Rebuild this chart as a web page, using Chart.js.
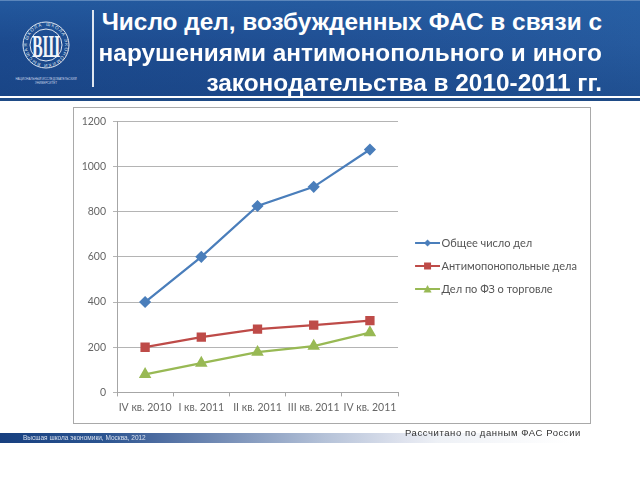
<!DOCTYPE html>
<html><head><meta charset="utf-8">
<style>
html,body{margin:0;padding:0;background:#fff;width:640px;height:480px;overflow:hidden;font-family:"Liberation Sans",sans-serif}
#all{position:absolute;left:0;top:0;width:640px;height:480px;filter:blur(.35px)}
#banner{position:absolute;left:0;top:0;width:640px;height:96px;background:linear-gradient(to bottom,rgba(40,100,170,.55) 0%,rgba(28,70,130,0) 45%,rgba(20,60,120,.35) 100%),linear-gradient(90deg,#1c4a8e 0%,#204f93 50%,#265a9e 100%);border-top:1px solid #5b86bb;box-sizing:border-box}
#rule1{position:absolute;left:0;top:96px;width:640px;height:2px;background:#fff}
#rule2{position:absolute;left:0;top:98px;width:640px;height:3px;background:#1f4b86}
#sep{position:absolute;left:92px;top:10px;width:2px;height:77px;background:#dfe6f0}
.t{position:absolute;right:38px;color:#fff;font-weight:bold;font-size:24.4px;white-space:nowrap;line-height:30px}
#frame{position:absolute;left:73px;top:107px;width:516px;height:315px;border:1px solid #a9a9a9;background:#fff}
#wrap{position:absolute;left:74px;top:108px;width:516px;height:315px}
#foot{position:absolute;left:0;top:433px;width:570px;height:10px;background:linear-gradient(90deg,#173f7f 0%,#2b5490 18%,#4a6a9f 27%,#b5c2d8 57%,#dfe3ee 71%,#eef1f6 77%,#ffffff 100%)}
#foottext{position:absolute;left:23px;top:434px;font-size:6.5px;color:#d8e0ee;line-height:8px;white-space:nowrap}
#src{position:absolute;left:405px;top:427px;font-size:9.5px;color:#333;letter-spacing:.58px;white-space:nowrap}
</style></head><body><div id="all">
<div id="banner"></div><div id="rule1"></div><div id="rule2"></div><div id="sep"></div>
<svg style="position:absolute;left:0;top:0" width="92" height="96" viewBox="0 0 92 96">
<circle cx="46" cy="45" r="23" fill="none" stroke="#dfe6f0" stroke-width="1"/>
<circle cx="46" cy="45" r="16" fill="none" stroke="#dfe6f0" stroke-width="1"/>
<path id="ring" d="M46 26a19 19 0 1 1-.01 0" fill="none"/>
<text font-family="Liberation Sans" font-size="4.6" fill="#dfe6f0" letter-spacing="1"><textPath href="#ring">ШКОЛА ЭКОНОМИКИ ВЫСШАЯ ШКОЛА</textPath></text>
<text transform="translate(46 57) scale(.5 1)" text-anchor="middle" font-family="Liberation Serif" font-weight="bold" font-size="32" fill="#f2f5fa">ВШ</text>
<text x="46" y="80" text-anchor="middle" font-size="3" fill="#c8d4e6" font-family="Liberation Sans">НАЦИОНАЛЬНЫЙ ИССЛЕДОВАТЕЛЬСКИЙ</text>
<text x="46" y="84" text-anchor="middle" font-size="3" fill="#c8d4e6" font-family="Liberation Sans">УНИВЕРСИТЕТ</text>
</svg>
<div class="t" style="top:7px">Число дел, возбужденных ФАС в связи с</div>
<div class="t" style="top:38px">нарушениями антимонопольного и иного</div>
<div class="t" style="top:68px">законодательства в 2010-2011 гг.</div>
<div id="frame"></div>
<div id="wrap"><canvas id="c" width="516" height="315"></canvas></div>
<div id="foot"></div><div id="foottext">Высшая школа экономики, Москва, 2012</div>
<div id="src">Рассчитано по данным ФАС России</div>
</div>
<script src="https://cdn.jsdelivr.net/npm/chart.js@4"></script>
<script>
const categories=["IV кв. 2010","I кв. 2011","II кв. 2011","III кв. 2011","IV кв. 2011"];
const totalCases=[400,600,825,910,1075];
const antitrustCases=[200,245,280,298,318];
const tradeLawCases=[80,130,178,205,265];
const seriesNames=["Общее число дел","Антимопонопольные дела","Дел по ФЗ о торговле"];
const colors=["#4a7ebb","#be4b48","#98b954"];
const styles=["rectRot","rect","triangle"];
function legendIcon(color,style){
  const cv=document.createElement('canvas');cv.width=34;cv.height=10;
  const x=cv.getContext('2d');
  x.strokeStyle=color;x.fillStyle=color;x.lineWidth=2;
  x.beginPath();x.moveTo(9,5);x.lineTo(34,5);x.stroke();
  x.beginPath();
  const c=21.5;
  if(style==='rectRot'){x.moveTo(c,1.5);x.lineTo(c+3.5,5);x.lineTo(c,8.5);x.lineTo(c-3.5,5);}
  else if(style==='rect'){x.rect(c-3.5,1.5,7,7);}
  else{x.moveTo(c,1);x.lineTo(c+4,8.5);x.lineTo(c-4,8.5);}
  x.closePath();x.fill();
  return cv;
}
const font={family:"Lato",size:10.5};
const widenLegend={id:'widenLegend',beforeLayout(ch){
  const l=ch.legend;if(!l||l._wide)return;l._wide=true;
  const f=l.fit;l.fit=function(){this.maxWidth=200;f.call(this);};
},afterLayout(ch){
  const l=ch.legend;if(l){l.top-=2;l.bottom-=2;}
}};
new Chart(document.getElementById('c'),{
  type:'line',
  plugins:[widenLegend],
  data:{labels:categories,datasets:[totalCases,antitrustCases,tradeLawCases].map((d,i)=>({
    label:seriesNames[i],data:d,borderColor:colors[i],backgroundColor:colors[i],
    borderWidth:2.25,pointStyle:styles[i],pointRadius:i===0?4.5:5,pointBorderColor:colors[i],pointBackgroundColor:colors[i],tension:0
  }))},
  options:{
    responsive:false,animation:false,
    layout:{padding:{left:0,top:9,right:3,bottom:4}},
    plugins:{tooltip:{enabled:false},title:{display:false},
      legend:{position:'right',align:'center',labels:{
        font:{family:"Lato",size:11},color:'#555',usePointStyle:true,pointStyleWidth:26,boxHeight:10,padding:12,
        generateLabels:(ch)=>ch.data.datasets.map((d,i)=>({text:d.label,pointStyle:legendIcon(colors[i],styles[i]),datasetIndex:i,fontColor:'#555',strokeStyle:colors[i],fillStyle:colors[i],lineWidth:0}))
      }}},
    scales:{
      x:{offset:true,grid:{offset:true,drawOnChartArea:false,drawTicks:true,tickLength:4,color:'#a6a6a6'},border:{color:'#a6a6a6'},
        ticks:{font,color:'#666',maxRotation:0,minRotation:0,autoSkip:false,padding:5}},
      y:{min:0,max:1200,afterFit:(s)=>{s.width=43},grid:{color:'#b4b4b4',tickLength:4},border:{color:'#a6a6a6'},
        ticks:{stepSize:200,font,color:'#666',padding:7,callback:(v)=>String(v)}}
    }
  }
});
</script>
</body></html>
